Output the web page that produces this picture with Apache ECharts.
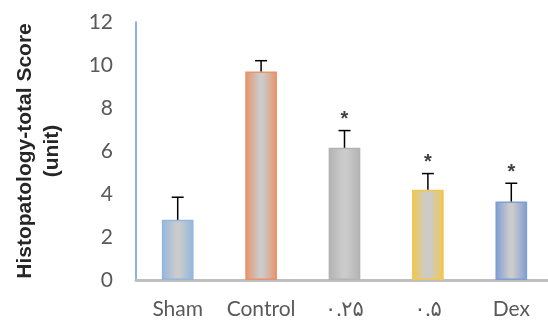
<!DOCTYPE html>
<html>
<head>
<meta charset="utf-8">
<script src="https://cdn.jsdelivr.net/npm/echarts@6/dist/echarts.min.js"></script>
<style>
  html, body { margin: 0; padding: 0; background: #fff; }
  #chart { width: 548px; height: 320px; }
</style>
</head>
<body>
<div id="chart"></div>
<script>
// Groups and scores
const categories = ['Sham', 'Control', '۰.۲۵', '۰.۵', 'Dex'];
const scores = [2.8, 9.7, 6.15, 4.2, 3.65];
const errors = [1.05, 0.5, 0.8, 0.75, 0.85];
const marks = ['', '', '*', '*', '*'];
const yTicks = [0, 2, 4, 6, 8, 10, 12];

// Edge colour of each bar; the middle fades to grey
const edgeColors = ['#93b6dd', '#e8936a', '#b3b3b3', '#f0c84e', '#7f9cd3'];
const centerGrey = '#cbcbcb';

const chart = echarts.init(document.getElementById('chart'), null, { renderer: 'canvas' });

function barFill(edge) {
  return new echarts.graphic.LinearGradient(0, 0, 1, 0, [
    { offset: 0, color: edge },
    { offset: 0.45, color: centerGrey },
    { offset: 0.55, color: centerGrey },
    { offset: 1, color: edge }
  ]);
}

const barData = scores.map((v, i) => ({
  value: v,
  itemStyle: { color: barFill(edgeColors[i]), borderColor: edgeColors[i], borderWidth: 1.5 }
}));

const errData = scores.map((v, i) => [i, v, v + errors[i], marks[i]]);

const labelFont = 'Lato, Liberation Sans, DejaVu Sans';

chart.setOption({
  animation: false,
  grid: {
    left: 136, top: 22, width: 417, height: 258,
    containLabel: false, outerBoundsMode: 'none'
  },
  xAxis: {
    type: 'category',
    data: categories,
    axisLine: { show: true, lineStyle: { color: '#bfbfbf', width: 3 } },
    axisTick: { show: false },
    axisLabel: {
      interval: 0,
      color: '#595959', fontSize: 21, fontFamily: labelFont,
      margin: 19
    }
  },
  yAxis: {
    type: 'value',
    min: 0, max: 12, interval: 2,
    axisLine: { show: true, lineStyle: { color: '#5b9bd5', width: 1.5 } },
    axisTick: { show: false },
    splitLine: { show: false },
    axisLabel: {
      color: '#595959', fontSize: 21, fontFamily: labelFont,
      margin: 23,
      formatter: v => (yTicks.indexOf(v) >= 0 ? String(v) : '')
    },
    name: 'Histopatology-total Score\n(unit)',
    nameLocation: 'middle',
    nameGap: 70,
    nameTextStyle: {
      color: '#262626', fontSize: 21, fontWeight: 'bold',
      fontFamily: 'Liberation Sans', lineHeight: 27, align: 'center'
    }
  },
  series: [
    {
      type: 'bar',
      data: barData,
      barWidth: '38%',
      z: 2
    },
    {
      type: 'custom',
      data: errData,
      z: 3,
      renderItem: function (params, api) {
        const lo = api.coord([api.value(0), api.value(1)]);
        const hi = api.coord([api.value(0), api.value(2)]);
        const cap = 6;
        const style = { stroke: '#000', lineWidth: 1.5 };
        const children = [
          { type: 'line', shape: { x1: lo[0], y1: lo[1], x2: hi[0], y2: hi[1] }, style: style },
          { type: 'line', shape: { x1: hi[0] - cap, y1: hi[1], x2: hi[0] + cap, y2: hi[1] }, style: style }
        ];
        const mark = api.value(3);
        if (mark) {
          children.push({
            type: 'text',
            style: {
              text: mark, x: hi[0], y: hi[1] - 1,
              align: 'center', verticalAlign: 'bottom',
              fill: '#404040', fontSize: 20, fontWeight: 'bold', fontFamily: 'Liberation Sans'
            }
          });
        }
        return { type: 'group', children: children };
      }
    }
  ]
});
</script>
</body>
</html>
